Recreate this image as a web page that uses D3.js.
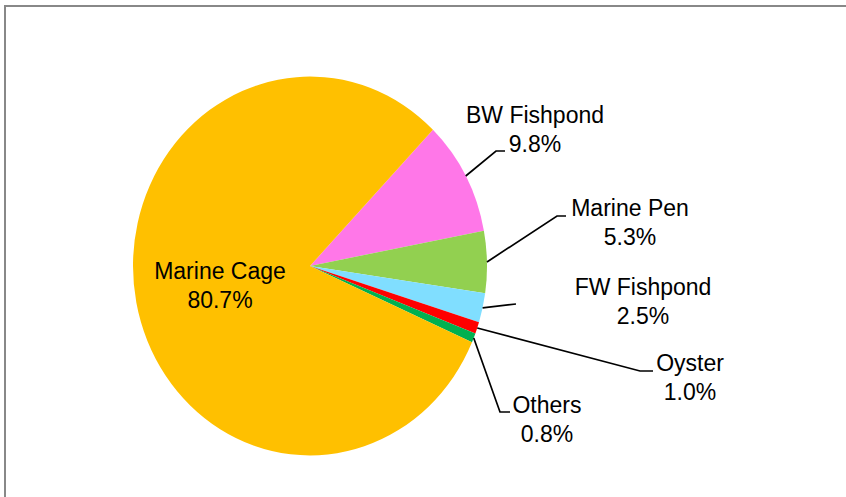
<!DOCTYPE html>
<html>
<style>
    body {
      margin: 0;
      overflow: hidden;
      background: #fff;
    }
    text {
      font-family: "Liberation Sans", Arial, sans-serif;
      font-size: 23px;
      fill: #000;
    }
    .leader {
      fill: none;
      stroke: #000;
      stroke-width: 1.7;
    }
</style>
<script src="https://cdn.jsdelivr.net/npm/d3@7"></script>
<svg></svg>
<script>
// share of production by culture environment
var categories = ["BW Fishpond", "Marine Pen", "FW Fishpond", "Oyster", "Others", "Marine Cage"];
var values = [9.8, 5.3, 2.5, 1.0, 0.8, 80.7];
var labels = ["9.8%", "5.3%", "2.5%", "1.0%", "0.8%", "80.7%"];
var colors = ["#FF77E8", "#92D050", "#80DEFF", "#FF0000", "#00B050", "#FFC000"];

var width = 846,
    height = 497,
    cx = 310,
    cy = 266,
    radius = 177,
    sy = 1.07; // pie is a bit taller than wide in the original

// label placement: text centre x, first baseline y, leader polyline (bend, end)
var layout = [
  {x: 535, y: 123, bend: [496, 151], end: [505, 151]},
  {x: 630, y: 216, bend: [557, 216], end: [566, 216]},
  {x: 643, y: 295, bend: null, end: [516, 304]},
  {x: 690, y: 371, bend: [640, 371], end: [653, 371]},
  {x: 547, y: 413, bend: [500, 412], end: [510, 412]},
  {x: 220, y: 279, bend: null, end: null}
];

var svg = d3.select("svg")
    .attr("width", width)
    .attr("height", height);

// chart frame, right and bottom sides run off the picture
svg.append("rect")
    .attr("x", 5)
    .attr("y", 6)
    .attr("width", width + 20)
    .attr("height", height + 20)
    .style("fill", "#fff")
    .style("stroke", "#888")
    .style("stroke-width", 2);

var start = 44 * Math.PI / 180;

var pie = d3.pie()
    .sort(null)
    .startAngle(start)
    .endAngle(start + 2 * Math.PI);

var arcs = pie(values);

var arc = d3.arc()
    .innerRadius(0)
    .outerRadius(radius);

var pieG = svg.append("g")
    .attr("transform", "translate(" + cx + "," + cy + ") scale(1," + sy + ")");

pieG.selectAll("path")
    .data(arcs)
  .enter().append("path")
    .attr("d", arc)
    .style("fill", function(d, i) {return colors[i]});

function edgePoint(d) {
  var a = (d.startAngle + d.endAngle) / 2;
  return [cx + radius * Math.sin(a), cy - radius * sy * Math.cos(a)];
}

arcs.forEach(function(d, i) {
  var l = layout[i];
  if (l.end) {
    var pts = [edgePoint(d)];
    if (l.bend) pts.push(l.bend);
    pts.push(l.end);
    svg.append("path")
        .attr("class", "leader")
        .attr("d", d3.line()(pts));
  }

  var t = svg.append("text")
      .attr("text-anchor", "middle")
      .attr("transform", "translate(" + l.x + "," + l.y + ")");
  t.append("tspan")
      .attr("x", 0)
      .attr("y", 0)
      .text(categories[i]);
  t.append("tspan")
      .attr("x", 0)
      .attr("y", 28.5)
      .text(labels[i]);
});
</script>
</html>
